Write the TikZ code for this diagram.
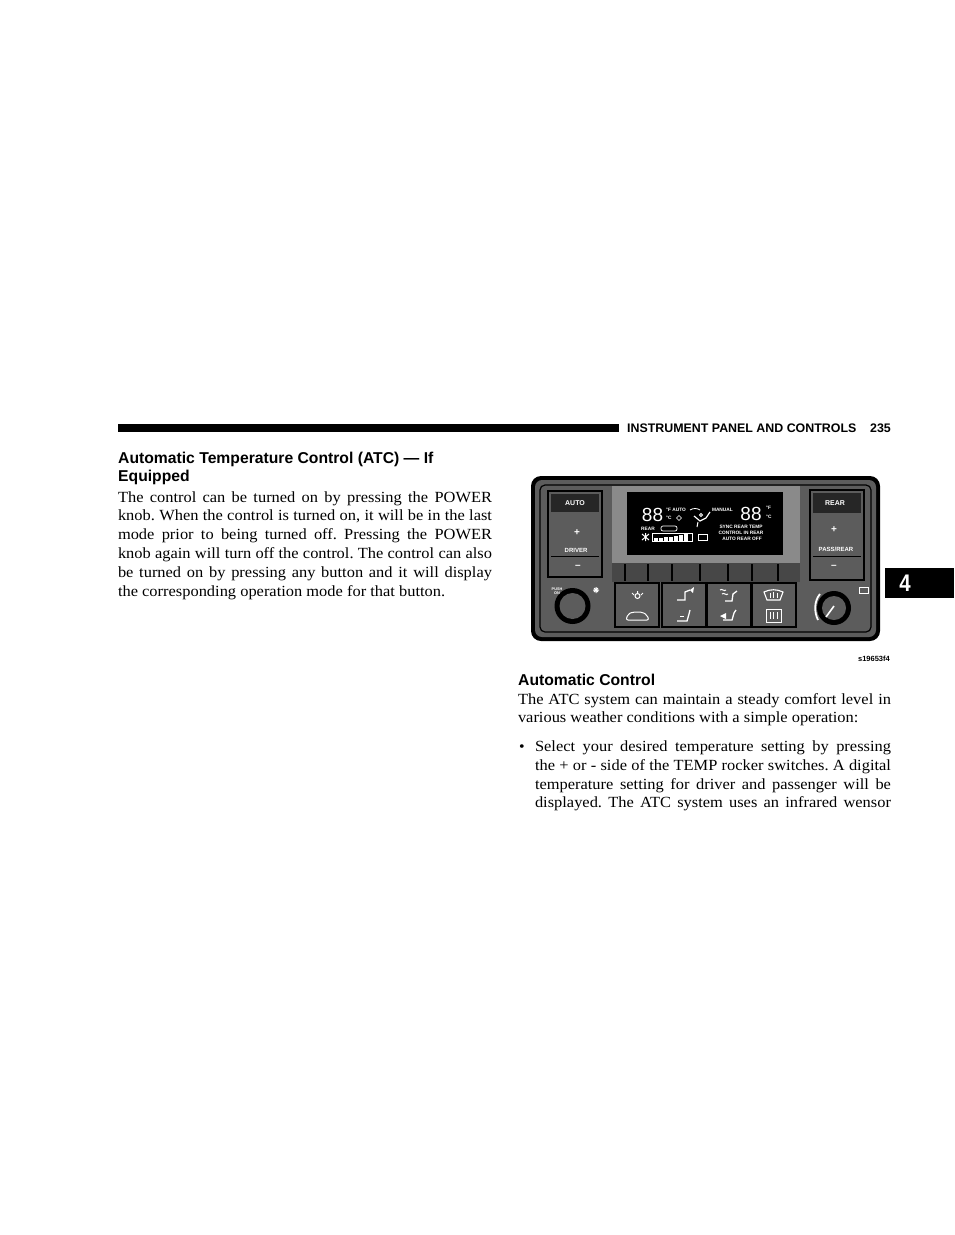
\documentclass[tikz,border=0pt]{standalone}
\usepackage{fontspec}
\setmainfont[FakeStretch=1.06]{Liberation Serif}
\newfontfamily\hsans{Liberation Sans}
\newcommand\jus[2]{\makebox[#1][s]{#2}}
\frenchspacing
\begin{document}
\begin{tikzpicture}[x=1pt,y=-1pt,
 txt/.style={anchor=base west, inner sep=0pt, outer sep=0pt, font=\fontsize{15.5}{18.8}\selectfont},
 hd/.style={anchor=base west, inner sep=0pt, font=\hsans\bfseries\fontsize{15.7}{18}\selectfont},
 toptxt/.style={anchor=base west, inner sep=0pt, font=\hsans\bfseries\fontsize{12.4}{14}\selectfont},
 lcd/.style={inner sep=0pt, text=white, font=\hsans\bfseries\fontsize{4.8}{5}\selectfont},
 digits/.style={inner sep=0pt, text=white, font=\hsans\fontsize{19}{19}\selectfont},
 btn/.style={inner sep=0pt, text=white, font=\hsans\bfseries\fontsize{7}{7}\selectfont},
 tone/.style={fill=black!64},
 tonelight/.style={fill=black!46},
 icon/.style={draw=white, line width=1pt},
 frame/.style={draw=black, line width=1.4pt}]
\useasboundingbox (0,0) rectangle (954,1235);
\fill[white] (0,0) rectangle (954,1235);

% ---------- header ----------
\fill[black] (118,424) rectangle (619,432);
\node[toptxt] (hdr) at (627,432) {INSTRUMENT PANEL AND CONTROLS};
\node[toptxt, anchor=base east] (pg) at (891,432) {235};

% ---------- tab ----------
\fill[black] (885,568) rectangle (954,598);
\node[inner sep=0pt, text=white, font=\hsans\bfseries\fontsize{24}{24}\selectfont] (tab4) at (905,583.5) {\scalebox{0.85}[1]{4}};

% ---------- left column ----------
\node[hd] (h1) at (118,463.5) {Automatic Temperature Control (ATC) — If};
\node[hd] (h2) at (118,481.5) {Equipped};
\node[txt] (l1) at (118,502) {\jus{374pt}{The control can be turned on by pressing the POWER}};
\node[txt] (l2) at (118,520.8) {\jus{374pt}{knob. When the control is turned on, it will be in the last}};
\node[txt] (l3) at (118,539.6) {\jus{374pt}{mode prior to being turned off. Pressing the POWER}};
\node[txt] (l4) at (118,558.4) {\jus{374pt}{knob again will turn off the control. The control can also}};
\node[txt] (l5) at (118,577.2) {\jus{374pt}{be turned on by pressing any button and it will display}};
\node[txt] (l6) at (118,596) {the corresponding operation mode for that button.};

% ---------- right column text ----------
\node[hd] (h3) at (518,685.5) {Automatic Control};
\node[txt] (r1) at (518,704) {\jus{373pt}{The ATC system can maintain a steady comfort level in}};
\node[txt] (r2) at (518,722.8) {various weather conditions with a simple operation:};
\node[txt, font=\fontsize{15}{15}\selectfont] (bul) at (519,751.5) {\textbullet};
\node[txt] (s1) at (535,751.5) {\jus{356pt}{Select your desired temperature setting by pressing}};
\node[txt] (s2) at (535,770.3) {\jus{356pt}{the + or - side of the TEMP rocker switches. A digital}};
\node[txt] (s3) at (535,789.1) {\jus{356pt}{temperature setting for driver and passenger will be}};
\node[txt] (s4) at (535,807.9) {\jus{356pt}{displayed. The ATC system uses an infrared wensor}};

% ---------- figure label ----------
\node[inner sep=0pt, anchor=base east, font=\hsans\bfseries\fontsize{7.5}{8}\selectfont] (fig) at (890,661) {s19653f4};

% ---------- control panel ----------
\fill[black, rounded corners=10pt] (531,476) rectangle (880,641);
\path[tone, rounded corners=7pt] (535,480) rectangle (876,637);
\draw[black, line width=1.2pt, rounded corners=5pt] (540,485) rectangle (871,632);

% left button column
\path[tone] (548,491) rectangle (602,577);
\draw[frame] (548,491) rectangle (602,577);
\path[fill=black!85] (551,494) rectangle (599,512);
\draw[black, line width=1pt] (551,556) -- (599,556);
\node[btn] (auto) at (575,503) {AUTO};
\node[btn, font=\hsans\bfseries\fontsize{10}{10}\selectfont] (dplus) at (577,533) {+};
\node[btn, font=\hsans\bfseries\fontsize{6}{6}\selectfont] (driver) at (576,550) {DRIVER};
\node[btn, font=\hsans\bfseries\fontsize{10}{10}\selectfont] (dminus) at (578,567) {–};

% right button column
\path[tone] (810,490) rectangle (864,580);
\draw[frame] (810,490) rectangle (864,580);
\path[fill=black!85] (813,493) rectangle (861,513);
\draw[black, line width=1pt] (813,556) -- (861,556);
\node[btn] (rear) at (835,503) {REAR};
\node[btn, font=\hsans\bfseries\fontsize{10}{10}\selectfont] (pplus) at (834,530) {+};
\node[btn, font=\hsans\bfseries\fontsize{6}{6}\selectfont] (pass) at (836,549) {PASS/REAR};
\node[btn, font=\hsans\bfseries\fontsize{10}{10}\selectfont] (pminus) at (834,567) {–};

% display frame and grille
\path[tonelight] (612,486) rectangle (800,563);
\fill[black] (627,492) rectangle (783,555);
\path[fill=black!72] (612,563) rectangle (800,582);
\foreach \gx in {625,648,672,700,728,752,778}
  \draw[black, line width=1.6pt] (\gx,564) -- (\gx,581);

% display contents
\node[digits] (d1) at (652.5,515) {88};
\node[digits] (d2) at (751,514) {88};
\node[lcd, anchor=west] (fauto) at (666,510) {°F AUTO};
\node[lcd, anchor=west] (cl) at (666,518) {°C};
\draw[white, line width=0.6pt] (679,515.5) -- (681.5,518) -- (679,520.5) -- (676.5,518) -- cycle;
\node[lcd, anchor=west] (rearl) at (641,528.5) {REAR};
\draw[white, line width=0.7pt, rounded corners=2pt] (661,526) rectangle (677,531);
\node[lcd, anchor=east] (manual) at (733,510) {MANUAL};
\node[lcd, anchor=west] (fr) at (766,508) {°F};
\node[lcd, anchor=west] (cr) at (766,517) {°C};
\node[lcd] (sync) at (741,527) {SYNC REAR TEMP};
\node[lcd] (ctrl) at (741,533) {CONTROL IN REAR};
\node[lcd] (arof) at (742,539) {AUTO REAR OFF};
% fan and bars
\draw[white, line width=1pt] (642,534) -- (649,540) (642,540) -- (649,534) (645.5,533) -- (645.5,541);
\draw[white, line width=0.7pt] (652,533) rectangle (692,541);
\foreach \bx/\bh in {654/3,659/3.5,664/4,669/4.5,674/5,679/6,684/7}
  \fill[white] (\bx,541) rectangle (\bx+3.5,541-\bh);
\draw[white, line width=0.6pt] (698,534) rectangle (707,540);
% seated figure icon
\draw[white, line width=1.2pt] (694,516) -- (700,521) -- (706,518) -- (710,512);
\draw[white, line width=1pt] (698,522) -- (697,527) (701,515) circle[radius=1.5pt];
\draw[white, line width=0.8pt] (690,510) .. controls (693,508) and (697,508) .. (700,510);

% bottom row: left knob
\fill[black] (572.5,606) circle[radius=18pt];
\path[tone] (572.5,606) circle[radius=13pt];
\node[lcd, font=\hsans\bfseries\fontsize{3.8}{4}\selectfont, align=center] (push) at (557,591) {PUSH\\ON};
\draw[white, line width=1pt] (593,590) -- (599,590) (596,587) -- (596,593) (594,588) -- (598,592) (594,592) -- (598,588);

% buttons
\foreach \bxa in {615,662,707,752} {
  \path[tone] (\bxa,583) rectangle (\bxa+44,627);
  \draw[frame] (\bxa,583) rectangle (\bxa+44,627);
}
% button 1 icons
\draw[icon] (637.5,596) circle[radius=2.5pt];
\draw[icon] (632,593) -- (634,595) (643,593) -- (641,595) (637.5,591) -- (637.5,593);
\draw[icon, rounded corners=2pt] (626,620) -- (628,614) -- (633,612) -- (642,612) -- (647,615) -- (649,620) -- cycle;
% button 2 icons
\draw[icon, line width=1.3pt] (677,600) -- (685,600) -- (685,592) -- (690,590);
\fill[white] (690,590) -- (694,587) -- (693,593) -- cycle;
\draw[icon, line width=1.3pt] (677,621) -- (687,621) -- (689,614) -- (690,610);
\draw[icon] (680,616) -- (684,616);
% button 3 icons
\draw[icon] (720,590) .. controls (722,588) and (724,592) .. (726,590) (722,594) .. controls (724,592) and (726,596) .. (728,594);
\draw[icon, line width=1.3pt] (725,601) -- (732,601) -- (733,594) -- (737,591);
\draw[icon, line width=1.3pt] (723,620) -- (732,620) -- (734,613) -- (736,610);
\fill[white] (720,616) -- (726,613) -- (726,619) -- cycle;
% button 4 icons
\draw[icon, line width=1.1pt] (764,592) .. controls (770,589) and (777,589) .. (783,592) -- (780,600) -- (767,600) -- cycle;
\draw[white, line width=0.7pt] (770,593) -- (770,598) (773.5,592) -- (773.5,598) (777,593) -- (777,598);
\draw[icon] (766,609) rectangle (781,622);
\draw[white, line width=0.7pt] (770,612) -- (770,619) (773.5,612) -- (773.5,619) (777,612) -- (777,619);

% right knob
\fill[black] (834,608) circle[radius=17pt];
\path[tone] (834,608) circle[radius=12pt];
\draw[white, line width=1.6pt] (826,617) -- (834,606);
\draw[white, line width=1.8pt] (820,594) .. controls (814,601) and (814,612) .. (818,620);
\draw[white, line width=0.7pt] (859,587) rectangle (868,593);
\end{tikzpicture}
\end{document}
